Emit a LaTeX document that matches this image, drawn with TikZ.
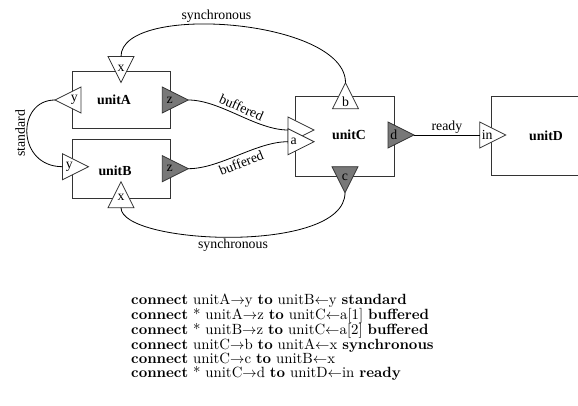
\documentclass[tikz,border=0pt]{standalone}
\usepackage{fontspec}
\newfontfamily\diagfont{Liberation Serif}
\newfontfamily\codefont{lmroman10-regular}[Extension=.otf,BoldFont=lmroman10-bold]
\usetikzlibrary{shapes.geometric,calc}
\definecolor{portgray}{gray}{0.47}
\definecolor{edgegray}{gray}{0.2}

\begin{document}
\begin{tikzpicture}[x=1pt,y=-1pt,
  unitbox/.style={draw=edgegray,line width=0.9pt,rectangle,inner sep=0pt,outer sep=0pt,
    minimum width=98.5pt},
  port/.style={draw=edgegray,line width=0.8pt,fill=white,isosceles triangle,
    isosceles triangle stretches,minimum width=26pt,minimum height=26pt,
    inner sep=0pt,outer sep=0pt,anchor=apex},
  outport/.style={port,fill=portgray},
  wire/.style={draw=black,line width=0.8pt},
  lbl/.style={font={\diagfont\fontsize{13.8}{16}\selectfont},inner sep=1.5pt},
  title/.style={font={\diagfont\bfseries\fontsize{13.8}{16}\selectfont},inner sep=0pt}]

\clip (0,0) rectangle (578,406);

% unit boxes
\node[unitbox,minimum height=57.5pt] (unitA) at (121.2,99.8) {};
\node[unitbox,minimum height=59pt]   (unitB) at (121.2,168.8) {};
\node[unitbox,minimum height=80pt]   (unitC) at (345,136) {};
\node[unitbox,minimum height=79.5pt] (unitD) at (540.7,136.2) {};

\node[title] (tA) at (114,100) {unitA};
\node[title] (tB) at (115,171) {unitB};
\node[title] (tC) at (349,135) {unitC};
\node[title] (tD) at (546,136) {unitD};

% ports (apex = tip of the triangle)
\node[port,shape border rotate=270] (Ax) at (121,82.5) {};
\node[port,shape border rotate=180] (Ay) at (55,100) {};
\node[outport,shape border rotate=0] (Az) at (188.3,100) {};
\node[port,shape border rotate=0] (By) at (88.5,166.7) {};
\node[outport,shape border rotate=0] (Bz) at (188.3,168.7) {};
\node[port,shape border rotate=90] (Bx) at (121,181.7) {};
\node[port,shape border rotate=0] (Ca1) at (314,130) {};
\node[port,shape border rotate=0] (Ca2) at (314,141.7) {};
\node[port,shape border rotate=90] (Cb) at (345.5,82.7) {};
\node[outport,shape border rotate=270] (Cc) at (345,192.7) {};
\node[outport,shape border rotate=0] (Cd) at (414,135) {};
\node[port,shape border rotate=0] (Din) at (505.7,135) {};

% port names
\node[lbl] (lAx) at ($(Ax.apex)!0.56!(Ax.lower side)$) {x};
\node[lbl] (lAy) at ($(Ay.apex)!0.74!(Ay.lower side)$) {y};
\node[lbl] (lAz) at ($(Az.apex)!0.72!(Az.lower side)$) {z};
\node[lbl] (lBy) at ($(By.apex)!0.74!(By.lower side)$) {y};
\node[lbl] (lBz) at ($(Bz.apex)!0.72!(Bz.lower side)$) {z};
\node[lbl] (lBx) at ($(Bx.apex)!0.62!(Bx.lower side)$) {x};
\node[lbl] (lCa) at ($(Ca2.apex)!0.78!(Ca2.lower side)$) {a};
\node[lbl] (lCb) at ($(Cb.apex)!0.72!(Cb.lower side)$) {b};
\node[lbl] (lCc) at ($(Cc.apex)!0.6!(Cc.lower side)$) {c};
\node[lbl] (lCd) at ($(Cd.apex)!0.78!(Cd.lower side)$) {d};
\node[lbl] (lDin) at ($(Din.apex)!0.71!(Din.lower side)$) {in};

% connections
\draw[wire] (Ay.apex) .. controls +(-39,0) and +(-46,0) ..
  node[pos=0.5,rotate=90,anchor=south,lbl] {standard} (By.lower side);
\draw[wire] (Az.apex) .. controls +(32,0) and +(-32,0) ..
  node[pos=0.5,sloped,above,lbl,inner sep=3pt] {buffered} (Ca1.lower side);
\draw[wire] (Bz.apex) .. controls +(32,0) and +(-32,0) ..
  node[pos=0.5,sloped,below,lbl,inner sep=3pt] {buffered} (Ca2.lower side);
\draw[wire] (Cb.apex) .. controls +(0,-64) and +(0,-54) ..
  node[pos=0.55,above,lbl] {synchronous} (Ax.lower side);
\draw[wire] (Cc.apex) .. controls +(0,62) and +(0,37) ..
  node[pos=0.5,below,lbl] {synchronous} (Bx.lower side);
\draw[wire] (Cd.apex) -- node[above,lbl] {ready} (Din.lower side);

% connection listing
\node[anchor=north west,align=left,inner sep=0pt,
  font={\codefont\fontsize{14.8}{14.3}\selectfont}] (listing) at (131,294) {%
\textbf{connect} unitA$\rightarrow$y \textbf{to} unitB$\leftarrow$y \textbf{standard}\\
\textbf{connect} * unitA$\rightarrow$z \textbf{to} unitC$\leftarrow$a[1] \textbf{buffered}\\
\textbf{connect} * unitB$\rightarrow$z \textbf{to} unitC$\leftarrow$a[2] \textbf{buffered}\\
\textbf{connect} unitC$\rightarrow$b \textbf{to} unitA$\leftarrow$x \textbf{synchronous}\\
\textbf{connect} unitC$\rightarrow$c \textbf{to} unitB$\leftarrow$x\\
\textbf{connect} * unitC$\rightarrow$d \textbf{to} unitD$\leftarrow$in \textbf{ready}};
\end{tikzpicture}
\end{document}
